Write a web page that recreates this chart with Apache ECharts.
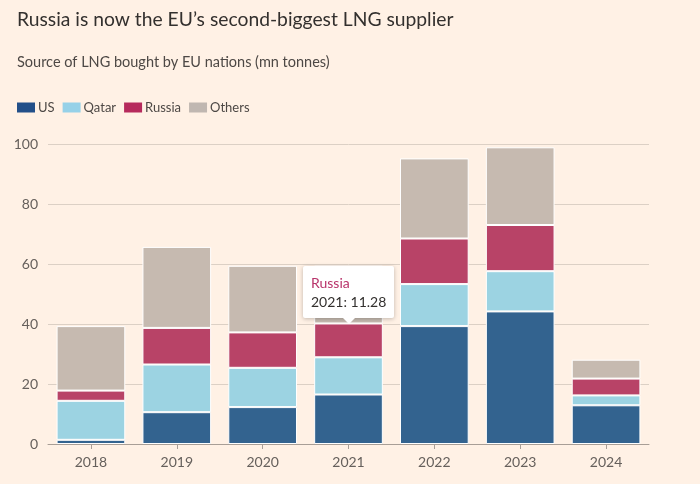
<!DOCTYPE html>
<html>
<head>
<meta charset="utf-8">
<script src="https://cdn.jsdelivr.net/npm/echarts@6/dist/echarts.min.js"></script>
<style>
html,body{margin:0;padding:0;background:#fff1e5;}
#chart{width:700px;height:484px;}
</style>
</head>
<body>
<div id="chart"></div>
<script>
var years = ['2018','2019','2020','2021','2022','2023','2024'];
var us     = [1.4, 10.6, 12.3, 16.5, 39.3, 44.2, 12.9];
var qatar  = [13.0, 15.9, 13.1, 12.4, 14.0, 13.4, 3.3];
var russia = [3.4, 12.2, 11.8, 11.28, 15.2, 15.4, 5.6];
var others = [21.5, 27.0, 22.2, 19.3, 26.7, 25.9, 6.3];
var yTicks = [0, 20, 40, 60, 80, 100];

var names = ['US','Qatar','Russia','Others'];
var barColors = ['#33638f','#9cd3e2','#b84367','#c6bab0'];
var legendColors = ['#224f89','#96d1e8','#b62a5c','#c0b7b1'];
var values = [us, qatar, russia, others];

var chart = echarts.init(document.getElementById('chart'), null, {renderer:'canvas'});

var series = names.map(function(n, i){
  return {
    name: n,
    type: 'bar',
    stack: 'total',
    data: values[i],
    barCategoryGap: '20%',
    itemStyle: {color: barColors[i], borderColor: '#ffffff', borderWidth: 1},
    emphasis: {disabled: true}
  };
});

chart.setOption({
  animation: false,
  backgroundColor: '#fff1e5',
  textStyle: {fontFamily: 'Lato'},
  title: [
    {text: 'Russia is now the EU\u2019s second-biggest LNG supplier', left: 12, top: 5,
     textStyle: {fontFamily: 'Lato', fontSize: 19.3, fontWeight: 'normal', color: '#33302e'}},
    {text: 'Source of LNG bought by EU nations (mn tonnes)', left: 12, top: 50,
     textStyle: {fontFamily: 'Lato', fontSize: 14.5, fontWeight: 'normal', color: '#4d4845'}}
  ],
  legend: {
    left: 12, top: 96, icon: 'rect', itemWidth: 18, itemHeight: 10, itemGap: 8,
    selectedMode: false,
    textStyle: {fontFamily: 'Lato', fontSize: 13, color: '#4d4845', padding: [0,0,0,-2]},
    data: names.map(function(n, i){ return {name: n, itemStyle: {color: legendColors[i], borderWidth: 0}}; })
  },
  grid: {left: 48, right: 51, top: 144, bottom: 40, containLabel: false},
  xAxis: {
    type: 'category', data: years,
    axisLine: {lineStyle: {color: '#a89e96', width: 1}},
    axisTick: {show: true, alignWithLabel: true, length: 5, lineStyle: {color: '#a89e96'}},
    axisLabel: {fontFamily: 'Lato', fontSize: 14, color: '#66605c', margin: 11}
  },
  yAxis: {
    type: 'value', min: yTicks[0], max: yTicks[yTicks.length-1], interval: 20,
    axisLine: {show: false}, axisTick: {show: false},
    axisLabel: {fontFamily: 'Lato', fontSize: 14, color: '#66605c', margin: 10},
    splitLine: {lineStyle: {color: '#dcd0c5', width: 1}}
  },
  tooltip: {
    trigger: 'item',
    triggerOn: 'none',
    alwaysShowContent: true,
    backgroundColor: '#ffffff',
    borderWidth: 0,
    padding: [7, 8, 7, 8],
    extraCssText: 'box-shadow:0 1px 4px rgba(0,0,0,0.25);border-radius:2px;overflow:visible;',
    formatter: function(p){
      return '<div style="font-family:Lato;font-size:14px;line-height:19px;color:#33302e;position:relative;">' +
        '<div style="color:#b8336a;">' + p.seriesName + '</div>' +
        '<div>' + p.name + ': ' + p.value + '</div>' +
        '</div>' +
        '<div style="position:absolute;left:50%;bottom:-6px;margin-left:-6px;width:0;height:0;border-left:6px solid transparent;border-right:6px solid transparent;border-top:6px solid #ffffff;"></div>';
    },
    position: function(point, params, dom, rect, size){
      var w = size.contentSize[0], h = size.contentSize[1];
      var cx = rect.x + rect.width / 2;
      return [cx - w / 2, rect.y - h - 5];
    }
  },
  series: series
});

chart.dispatchAction({type: 'showTip', seriesIndex: 2, dataIndex: 3});
</script>
</body>
</html>
